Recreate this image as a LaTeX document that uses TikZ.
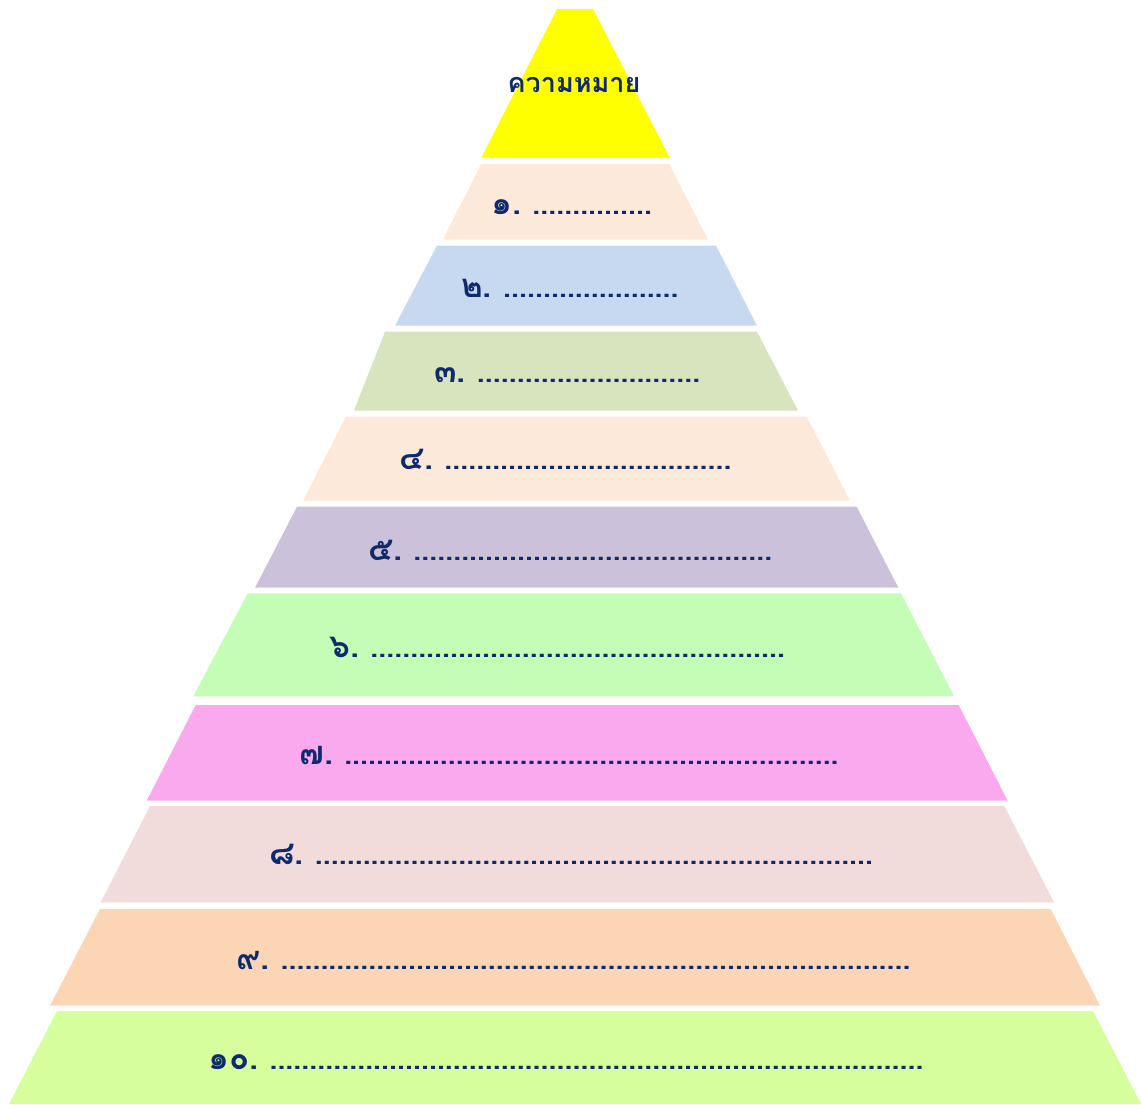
\documentclass[tikz,border=0pt]{standalone}
\usepackage{fontspec}
\newfontfamily\thaifont[Script=Thai]{Loma}
\definecolor{cY}{HTML}{FFFF00}
\definecolor{cA}{HTML}{FDE9D9}
\definecolor{cB}{HTML}{C6D9F1}
\definecolor{cC}{HTML}{D7E4BD}
\definecolor{cD}{HTML}{FDE9D9}
\definecolor{cE}{HTML}{CCC1DA}
\definecolor{cF}{HTML}{C4FDB6}
\definecolor{cG}{HTML}{FBA9EF}
\definecolor{cH}{HTML}{F2DCDB}
\definecolor{cI}{HTML}{FCD5B5}
\definecolor{cJ}{HTML}{D6FE9C}
\definecolor{navy}{HTML}{0E2A6C}
\newcommand\band[7]{\fill[#1] (#4,#2) -- (#5,#2) -- (#7,#3) -- (#6,#3) -- cycle;}
\newcommand\dts[1]{\hspace{11pt}{\fontsize{30}{34}\selectfont\hbox to \dimexpr 7.97pt*#1+0.5pt\relax{\leaders\hbox to 7.97pt{\hss.\hss}\hfill}}}
\tikzset{
  lbl/.style={font=\thaifont\bfseries\fontsize{33}{36}\selectfont, text=navy, inner sep=0pt, anchor=base west},
  ttl/.style={font=\thaifont\bfseries\fontsize{27}{32}\selectfont, text=navy, inner sep=0pt, anchor=base}
}
\begin{document}
\begin{tikzpicture}[x=1pt,y=-1pt]
\path[use as bounding box] (0,0) rectangle (1141,1104);
\band{cY}{9}{157.5}{557}{593}{481.5}{669.5}
\band{cA}{164}{239.5}{481}{669}{443}{708}
\band{cB}{245.5}{325.7}{437}{716}{395}{757}
\band{cC}{331.7}{410.5}{385}{757}{354}{798}
\band{cD}{416.5}{500.7}{346}{806.7}{303}{850}
\band{cE}{506.7}{587.7}{297}{856.7}{255}{898.3}
\band{cF}{593.3}{696.3}{247.7}{901}{193.3}{954}
\band{cG}{705}{800.7}{195.7}{958.7}{146.7}{1007.7}
\band{cH}{806}{902.3}{150}{1004.3}{100.7}{1054}
\band{cI}{909}{1005.7}{100}{1050.7}{50}{1100}
\band{cJ}{1011}{1104}{57}{1093}{9}{1141}
\node[ttl] (t0) at (574,92) {ความหมาย};
\node[lbl] (t1) at (491,214) {๑.\dts{15}};
\node[lbl] (t2) at (461,297.5) {๒.\dts{22}};
\node[lbl] (t3) at (434,382) {๓.\dts{28}};
\node[lbl] (t4) at (399,469) {๔.\dts{36}};
\node[lbl] (t5) at (368,560) {๕.\dts{45}};
\node[lbl] (t6) at (329,657) {๖.\dts{52}};
\node[lbl] (t7) at (299,764) {๗.\dts{62}};
\node[lbl] (t8) at (269,864) {๘.\dts{70}};
\node[lbl] (t9) at (236,969) {๙.\dts{79}};
\node[lbl] (t10) at (208,1069) {๑๐.\dts{82}};
\end{tikzpicture}
\end{document}
